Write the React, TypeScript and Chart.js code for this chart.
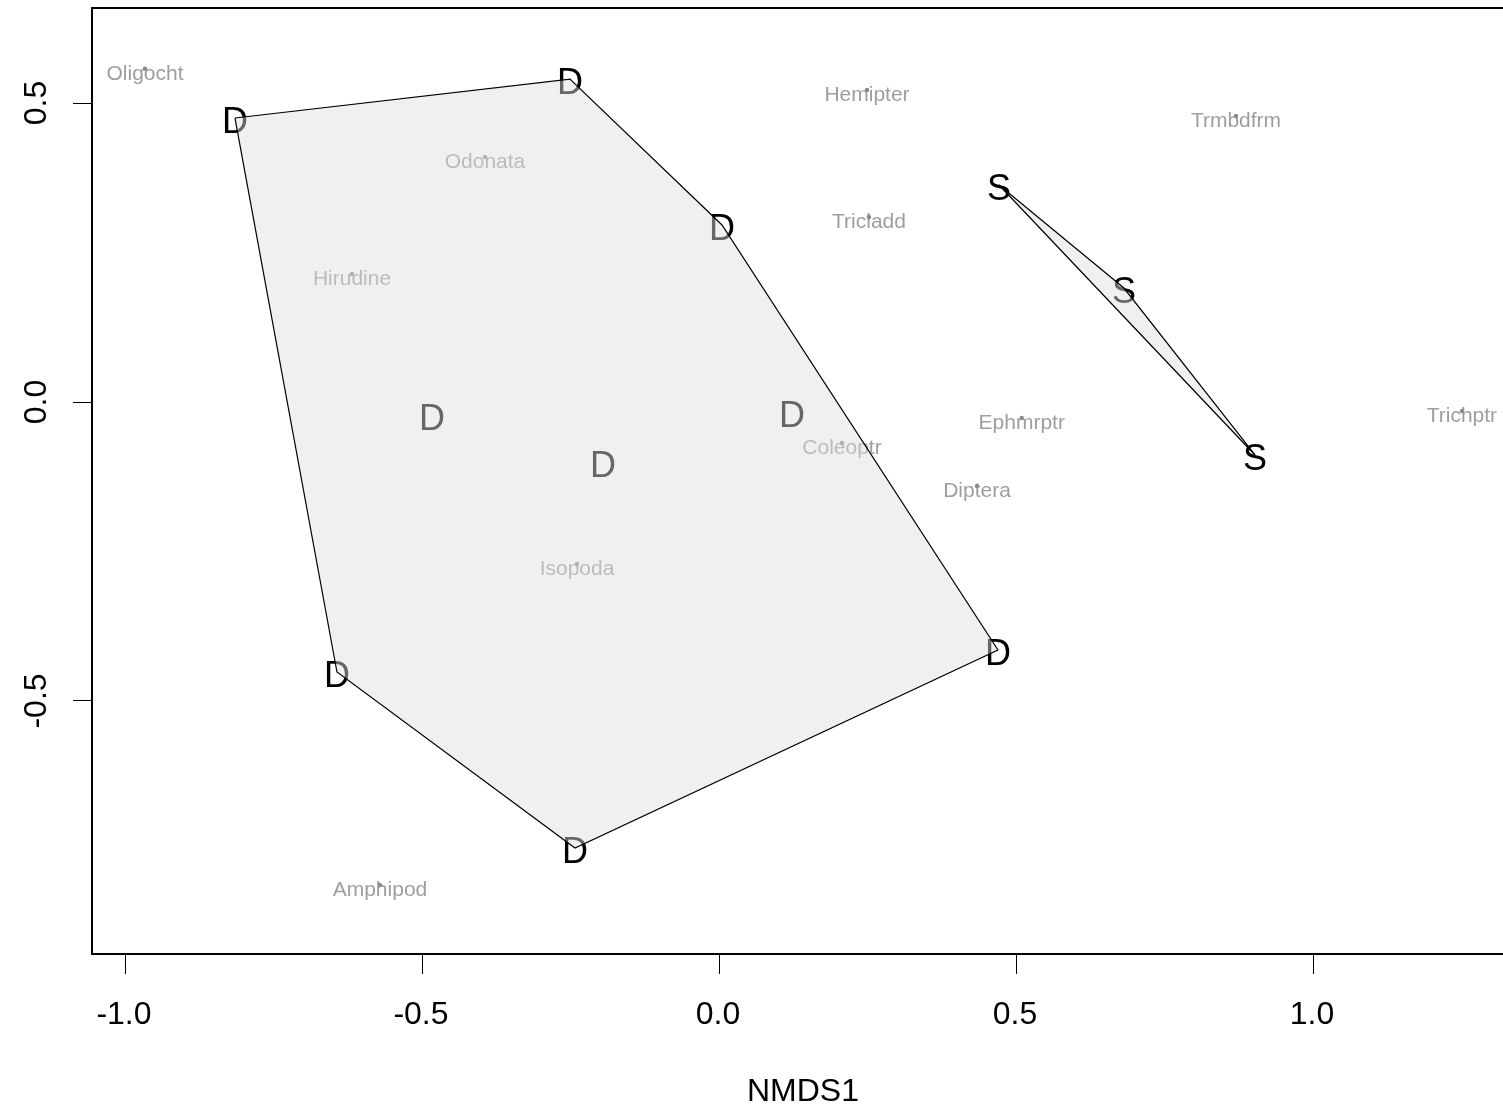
import React, { useEffect, useRef } from "react";
import { Chart, registerables } from "chart.js";

Chart.register(...registerables);

// Species scores (NMDS1, NMDS2)
const speciesNames = [
  "Oligocht", "Odonata", "Hirudine", "Hemipter", "Tricladd", "Trmbdfrm",
  "Ephmrptr", "Coleoptr", "Diptera", "Trichptr", "Isopoda", "Amphipod",
];
const speciesX = [-0.968, -0.3956, -0.6195, 0.2475, 0.2508, 0.8687, 0.508, 0.2054, 0.4327, 1.249, -0.2407, -0.5724];
const speciesY = [0.5574, 0.4097, 0.214, 0.5217, 0.3094, 0.4783, -0.0268, -0.0686, -0.1405, -0.0151, -0.2709, -0.8077];

// Site scores, group "D"
const sitesDX = [-0.8165, -0.2525, 0.0034, -0.4848, -0.197, 0.1212, 0.468, -0.6448, -0.2441];
const sitesDY = [0.4749, 0.5401, 0.296, -0.0217, -0.1003, -0.0167, -0.4147, -0.4515, -0.7458];
// Site scores, group "S"
const sitesSX = [0.4697, 0.68, 0.9007];
const sitesSY = [0.3629, 0.1906, -0.0886];

// Convex hull vertices (indices into the site arrays above)
const hullD = [0, 1, 2, 6, 8, 7];
const hullS = [0, 1, 2];

// Axes
const xTicks = [-1.0, -0.5, 0.0, 0.5, 1.0];
const yTicks = [-0.5, 0.0, 0.5];
const xLimits = [-1.0572, 1.3367];
const yLimits = [-0.9231, 0.6589];
const xTitle = "NMDS1";

const FONT = "Arial, 'Liberation Sans', sans-serif";
const HULL_FILL = "rgba(222,222,222,0.46)";

const toPoints = (xs: number[], ys: number[]) => xs.map((x, i) => ({ x, y: ys[i] }));
const hullPoints = (xs: number[], ys: number[], idx: number[]) => {
  const pts = idx.map((i) => ({ x: xs[i], y: ys[i] }));
  pts.push(pts[0]);
  return pts;
};

// Text labels for species and sites, drawn underneath the hulls
const labelPlugin = {
  id: "ordiLabels",
  beforeDatasetsDraw(chart: any) {
    const ctx = chart.ctx as CanvasRenderingContext2D;
    const area = chart.chartArea;
    ctx.save();
    ctx.beginPath();
    ctx.rect(area.left, area.top, area.right - area.left, area.bottom - area.top);
    ctx.clip();
    ctx.textAlign = "center";
    ctx.textBaseline = "alphabetic";

    // species names
    ctx.font = `21px ${FONT}`;
    ctx.fillStyle = "#9e9e9e";
    const sp = chart.getDatasetMeta(0);
    sp.data.forEach((el: any, i: number) => {
      ctx.fillText(speciesNames[i], el.x, el.y + 11);
    });

    // site letters
    ctx.font = `36px ${FONT}`;
    ctx.fillStyle = "#000";
    [
      { meta: chart.getDatasetMeta(1), letter: "D" },
      { meta: chart.getDatasetMeta(2), letter: "S" },
    ].forEach(({ meta, letter }) => {
      meta.data.forEach((el: any) => {
        ctx.fillText(letter, el.x, el.y + 2.5 + 0.358 * 36);
      });
    });
    ctx.restore();
  },
};

// Plot box and tick labels
const framePlugin = {
  id: "ordiFrame",
  afterDraw(chart: any) {
    const ctx = chart.ctx as CanvasRenderingContext2D;
    const a = chart.chartArea;
    ctx.save();
    ctx.strokeStyle = "#000";
    ctx.lineWidth = 2;
    ctx.strokeRect(a.left, a.top, a.right - a.left, a.bottom - a.top);

    ctx.fillStyle = "#000";
    ctx.font = `32px ${FONT}`;
    ctx.textAlign = "center";
    ctx.textBaseline = "alphabetic";
    const xs = chart.scales.x;
    xs.ticks.forEach((t: any) => {
      const px = xs.getPixelForValue(t.value);
      ctx.fillText(t.value.toFixed(1), px - 2, 1024);
    });
    const ys = chart.scales.y;
    ys.ticks.forEach((t: any) => {
      const py = ys.getPixelForValue(t.value);
      ctx.save();
      ctx.translate(35, py);
      ctx.rotate(-Math.PI / 2);
      ctx.fillText(t.value.toFixed(1), 0, 0.358 * 32);
      ctx.restore();
    });
    ctx.restore();
  },
};

export default function App() {
  const canvasRef = useRef<HTMLCanvasElement | null>(null);

  useEffect(() => {
    if (!canvasRef.current) return;
    const chart = new Chart(canvasRef.current, {
      type: "scatter",
      data: {
        datasets: [
          {
            label: "species",
            data: toPoints(speciesX, speciesY),
            pointRadius: 2.2,
            pointBackgroundColor: "#8a8a8a",
            pointBorderWidth: 0,
            order: 2,
          },
          {
            label: "D",
            data: toPoints(sitesDX, sitesDY),
            pointRadius: 0,
            order: 3,
          },
          {
            label: "S",
            data: toPoints(sitesSX, sitesSY),
            pointRadius: 0,
            order: 3,
          },
          {
            label: "hull D",
            data: hullPoints(sitesDX, sitesDY, hullD),
            showLine: true,
            fill: "shape",
            backgroundColor: HULL_FILL,
            borderColor: "#000",
            borderWidth: 1.2,
            pointRadius: 0,
            tension: 0,
            order: 0,
          },
          {
            label: "hull S",
            data: hullPoints(sitesSX, sitesSY, hullS),
            showLine: true,
            fill: "shape",
            backgroundColor: HULL_FILL,
            borderColor: "#000",
            borderWidth: 1.2,
            pointRadius: 0,
            tension: 0,
            order: 0,
          },
        ],
      },
      options: {
        responsive: false,
        animation: false,
        events: [],
        layout: { padding: { left: 0, top: 8, right: 6, bottom: 0 } },
        plugins: {
          legend: { display: false },
          tooltip: { enabled: false },
        },
        scales: {
          x: {
            type: "linear",
            min: xLimits[0],
            max: xLimits[1],
            afterBuildTicks: (s: any) => {
              s.ticks = xTicks.map((v) => ({ value: v }));
            },
            afterFit: (s: any) => {
              s.height = 158;
            },
            ticks: { display: false },
            grid: {
              drawOnChartArea: false,
              drawTicks: true,
              tickLength: 20,
              color: "#000",
              lineWidth: 1,
            },
            border: { display: false },
            title: {
              display: true,
              text: xTitle,
              color: "#000",
              font: { family: FONT, size: 32 },
              padding: { top: 0, bottom: 1 },
            },
          },
          y: {
            type: "linear",
            min: yLimits[0],
            max: yLimits[1],
            afterBuildTicks: (s: any) => {
              s.ticks = yTicks.map((v) => ({ value: v }));
            },
            afterFit: (s: any) => {
              s.width = 92;
            },
            ticks: { display: false },
            grid: {
              drawOnChartArea: false,
              drawTicks: true,
              tickLength: 19,
              color: "#000",
              lineWidth: 1,
            },
            border: { display: false },
          },
        },
      },
      plugins: [labelPlugin, framePlugin],
    } as any);
    return () => chart.destroy();
  }, []);

  return (
    <div
      style={{
        position: "fixed",
        left: 0,
        top: 0,
        width: 1503,
        height: 1112,
        overflow: "hidden",
        background: "#fff",
      }}
    >
      <canvas ref={canvasRef} width={1520} height={1112} style={{ display: "block" }} />
    </div>
  );
}
